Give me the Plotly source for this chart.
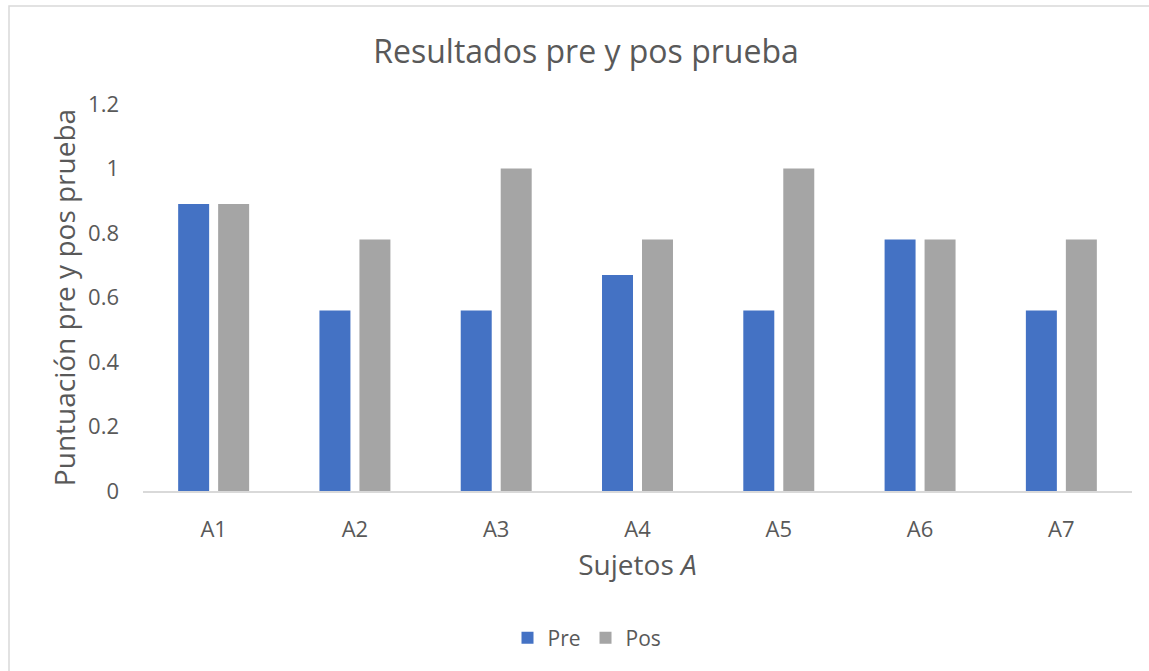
import plotly.graph_objects as go

categories = ["A1", "A2", "A3", "A4", "A5", "A6", "A7"]
pre_values = [0.89, 0.56, 0.56, 0.67, 0.56, 0.78, 0.56]
pos_values = [0.89, 0.78, 1.0, 0.78, 1.0, 0.78, 0.78]
y_ticks = [0, 0.2, 0.4, 0.6, 0.8, 1, 1.2]

FONT = "Open Sans"
TXT = "#595959"

fig = go.Figure()
fig.add_trace(go.Bar(name="Pre", x=categories, y=pre_values, marker=dict(color="#4472C4", line=dict(width=0))))
fig.add_trace(go.Bar(name="Pos", x=categories, y=pos_values, marker=dict(color="#A5A5A5", line=dict(width=0))))

L, R, T, B = 143, 17, 104, 180
W, H = 1149, 671
pw, ph = W - L - R, H - T - B

def px_x(p):
    return (p - L) / pw

def px_y(p):
    return (H - B - p) / ph

fig.update_layout(
    width=W, height=H,
    margin=dict(l=L, r=R, t=T, b=B),
    paper_bgcolor="white", plot_bgcolor="white",
    font=dict(family=FONT, color=TXT),
    barmode="group", bargap=0.434, bargroupgap=0.225,
    title=dict(text="Resultados pre y pos prueba", x=586 / W, xanchor="center",
               y=1 - 52 / H, yanchor="middle", font=dict(size=32, color=TXT, family=FONT)),
    showlegend=True,
    legend=dict(orientation="h", x=px_x(587), xanchor="center", y=px_y(638), yanchor="middle",
                font=dict(size=21, color=TXT), itemwidth=30, traceorder="normal"),
    xaxis=dict(showgrid=False, showline=True, linecolor="#D9D9D9", linewidth=1.5,
               ticks="", tickfont=dict(size=22, color=TXT), ticklabelstandoff=18,
               title=dict(text="Sujetos <i>A</i>", font=dict(size=28, color=TXT), standoff=13)),
    yaxis=dict(range=[0, 1.2], tickvals=y_ticks, ticktext=["0", "0.2", "0.4", "0.6", "0.8", "1", "1.2"],
               showgrid=False, showline=False, zeroline=False, ticks="",
               tickfont=dict(size=22, color=TXT), ticklabelstandoff=23,
               title=dict(text="Puntuación pre y pos prueba", font=dict(size=28, color=TXT), standoff=4)),
    shapes=[dict(type="rect", xref="paper", yref="paper",
                 x0=px_x(9), x1=px_x(1160), y0=px_y(690), y1=px_y(6),
                 line=dict(color="#D9D9D9", width=1.5), fillcolor="rgba(0,0,0,0)", layer="below")],
)

fig.write_html("out.html")
